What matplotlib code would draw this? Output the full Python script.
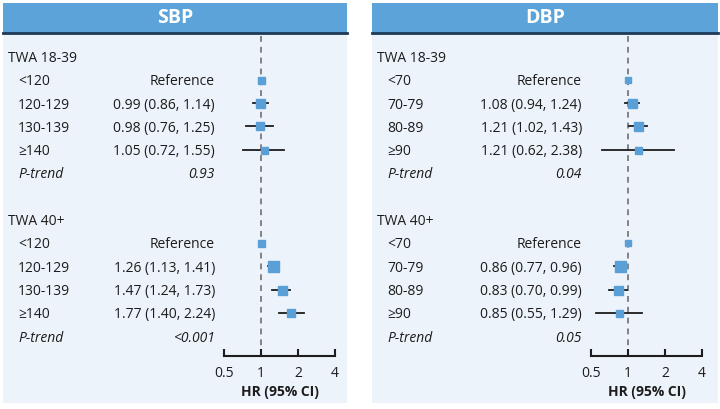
import matplotlib
matplotlib.use("Agg")
import matplotlib.pyplot as plt
import matplotlib.patches as patches
from matplotlib.transforms import blended_transform_factory

plt.rcParams['font.family'] = ['Open Sans', 'DejaVu Sans']

# data
panels = ["SBP", "DBP"]
groups = ["TWA 18-39", "TWA 40+"]
sbp_cats = ["<120", "120-129", "130-139", "≥140"]
dbp_cats = ["<70", "70-79", "80-89", "≥90"]

sbp_hr = [[1.0, 0.99, 0.98, 1.05], [1.0, 1.26, 1.47, 1.77]]
sbp_lo = [[None, 0.86, 0.76, 0.72], [None, 1.13, 1.24, 1.40]]
sbp_hi = [[None, 1.14, 1.25, 1.55], [None, 1.41, 1.73, 2.24]]
sbp_p = ["0.93", "<0.001"]

dbp_hr = [[1.0, 1.08, 1.21, 1.21], [1.0, 0.86, 0.83, 0.85]]
dbp_lo = [[None, 0.94, 1.02, 0.62], [None, 0.77, 0.70, 0.55]]
dbp_hi = [[None, 1.24, 1.43, 2.38], [None, 0.96, 0.99, 1.29]]
dbp_p = ["0.04", "0.05"]

# marker width (px), roughly study weight
sbp_w = [[7, 9, 8, 7], [7, 11, 9, 8]]
dbp_w = [[6, 9, 9, 7], [6, 11, 9, 7]]

ticks = [0.5, 1, 2, 4]

W, H = 720, 409
fig = plt.figure(figsize=(W / 100, H / 100), dpi=100)
fig.patch.set_facecolor("white")

HEAD = "#5ba3d9"
BG = "#edf3fa"
MARK = "#5a9fd6"
DARK = "#1e3a56"
INK = "#1c1c1c"


def fx(px):
    return px / W


def fy(py):
    return 1 - py / H


row_y0, row_dy = 56.5, 23.3
axis_y, top_y = 356, 35

specs = [
    (3, 347, 224, 335, sbp_cats, sbp_hr, sbp_lo, sbp_hi, sbp_p, sbp_w),
    (372, 718, 591, 702, dbp_cats, dbp_hr, dbp_lo, dbp_hi, dbp_p, dbp_w),
]

for name, (pl, pr, al, ar, cats, hr, lo, hi, pv, wts) in zip(panels, specs):
    # panel background and header
    fig.patches.append(patches.Rectangle((fx(pl), fy(403)), fx(pr - pl), fy(33) - fy(403),
                                         transform=fig.transFigure, facecolor=BG, edgecolor="none", zorder=-10))
    fig.patches.append(patches.Rectangle((fx(pl), fy(33)), fx(pr - pl), fy(3) - fy(33),
                                         transform=fig.transFigure, facecolor=HEAD, edgecolor="none", zorder=-9))
    fig.lines.append(plt.Line2D([fx(pl), fx(pr)], [fy(33), fy(33)], transform=fig.transFigure,
                                color=DARK, lw=2, zorder=-8))
    fig.text(fx((pl + pr) / 2), fy(18), name, color="white", fontsize=14, fontweight="bold",
             ha="center", va="center")

    ax = fig.add_axes([fx(al), fy(axis_y), fx(ar - al), fy(top_y) - fy(axis_y)])
    ax.set_zorder(5)
    ax.set_xscale("log")
    ax.set_xlim(0.5, 4)
    ax.set_ylim((axis_y - row_y0) / row_dy, (top_y - row_y0) / row_dy)
    ax.patch.set_alpha(0)
    for s in ["top", "left", "right"]:
        ax.spines[s].set_visible(False)
    ax.spines["bottom"].set_linewidth(1.5)
    ax.spines["bottom"].set_color(INK)
    ax.set_xticks(ticks)
    ax.set_xticklabels([str(t) for t in ticks])
    ax.minorticks_off()
    ax.tick_params(axis="x", direction="in", length=5, width=1.5, color=INK,
                   labelsize=10, labelcolor=INK, pad=7)
    ax.set_yticks([])
    ax.set_xlabel("HR (95% CI)", fontsize=10, fontweight="bold", color=INK, labelpad=3)
    ax.axvline(1, color="#707070", lw=1.2, ls=(0, (3.5, 3)), zorder=1)

    tr = blended_transform_factory(fig.transFigure, ax.transData)
    kw = dict(transform=tr, fontsize=10, va="center_baseline", color=INK)
    for g, grp in enumerate(groups):
        base = g * 7
        ax.text(fx(pl + 5), base, grp, ha="left", **kw)
        for i, cat in enumerate(cats):
            y = base + 1 + i
            ax.text(fx(pl + 15), y, cat, ha="left", **kw)
            if lo[g][i] is None:
                label = "Reference"
            else:
                label = f"{hr[g][i]:.2f} ({lo[g][i]:.2f}, {hi[g][i]:.2f})"
                ax.plot([lo[g][i], hi[g][i]], [y, y], color=INK, lw=1.3, zorder=2, clip_on=False)
            ax.text(fx(al - 9), y, label, ha="right", **kw)
            ax.plot(hr[g][i], y, marker="s", ms=wts[g][i] * 0.72, color=MARK, mec=MARK, zorder=3)
        y = base + 5
        ax.text(fx(pl + 15), y, "P-trend", ha="left", style="italic", **kw)
        ax.text(fx(al - 9), y, pv[g], ha="right", style="italic", **kw)

fig.savefig("out.png", dpi=100)
